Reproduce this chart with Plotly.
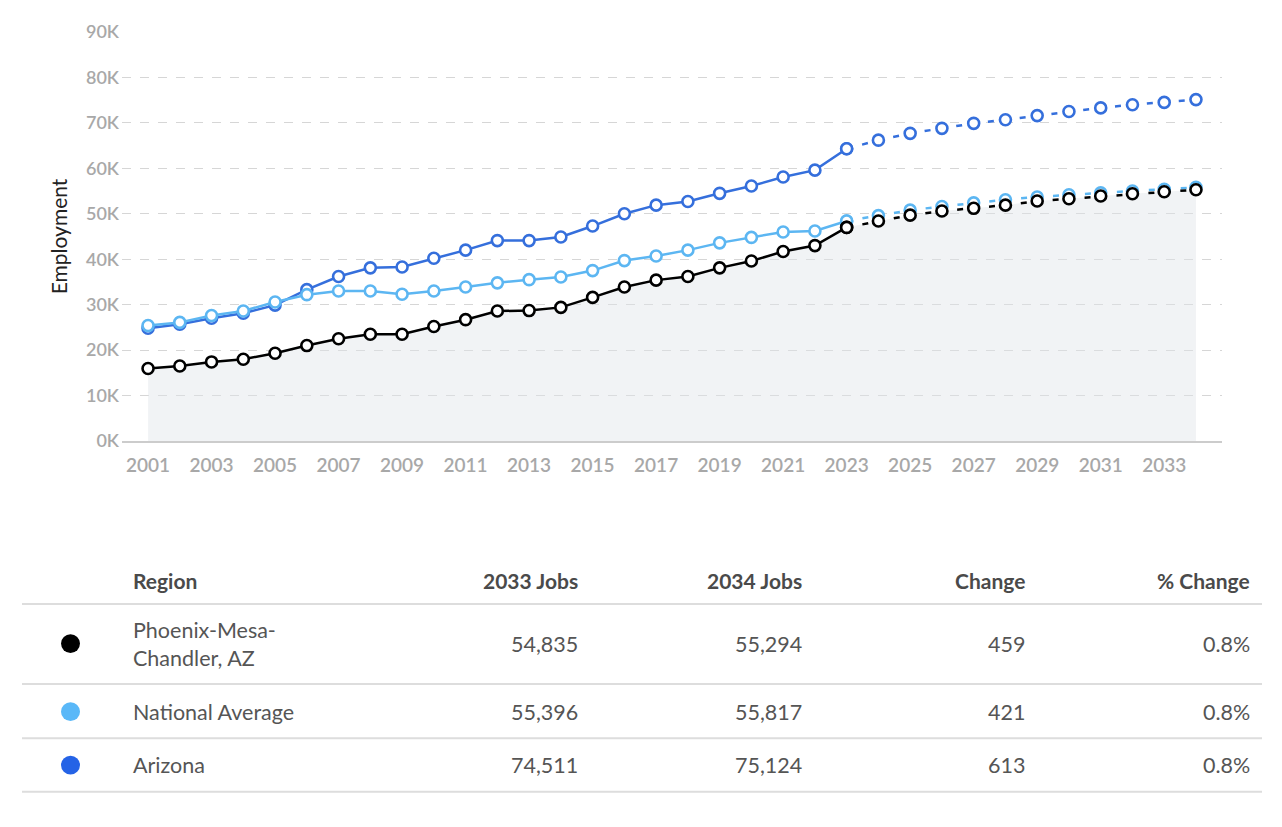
import plotly.graph_objects as go

years = list(range(2001, 2035))
last_actual_year = 2023

phoenix = [15960, 16500, 17400, 18000, 19300, 21000, 22500, 23500, 23500, 25200,
           26700, 28600, 28700, 29400, 31600, 33900, 35400, 36200, 38100, 39600,
           41700, 43000, 47000, 48400, 49700, 50600, 51200, 51900, 52800, 53300,
           53900, 54400, 54835, 55294]
national = [25400, 26100, 27600, 28600, 30600, 32200, 33000, 33000, 32300, 33000,
            33900, 34800, 35500, 36100, 37500, 39700, 40700, 42000, 43600, 44800,
            46000, 46200, 48400, 49600, 50800, 51600, 52400, 53100, 53700, 54200,
            54600, 55000, 55396, 55817]
arizona = [24800, 25700, 27000, 28100, 29900, 33300, 36200, 38100, 38300, 40200,
           42000, 44100, 44100, 44900, 47300, 50000, 51900, 52700, 54500, 56100,
           58100, 59600, 64300, 66200, 67700, 68800, 69900, 70700, 71600, 72500,
           73300, 74000, 74511, 75124]

y_tick_vals = [0, 10000, 20000, 30000, 40000, 50000, 60000, 70000, 80000, 90000]
y_tick_text = ["0K", "10K", "20K", "30K", "40K", "50K", "60K", "70K", "80K", "90K"]
x_tick_vals = list(range(2001, 2034, 2))

table_headers = ["Region", "2033 Jobs", "2034 Jobs", "Change", "% Change"]
regions = ["Phoenix-Mesa-<br>Chandler, AZ", "National Average", "Arizona"]
jobs_2033 = ["54,835", "55,396", "74,511"]
jobs_2034 = ["55,294", "55,817", "75,124"]
changes = ["459", "421", "613"]
pct_changes = ["0.8%", "0.8%", "0.8%"]

line_colors = ["#000000", "#5cb6f2", "#356fdc"]
dot_colors = ["#000000", "#5ab8f8", "#2563e6"]

# page has an 8px body margin; keep the page from overflowing the window
OFF = 8
W, H = 1282 - 2 * OFF, 802
PL, PR, PT, PB = 122, 1222, 27, 441  # plot area in page pixels
L, R, T, B = PL - OFF, OFF + W - PR, PT - OFF, OFF + H - PB


def px(x):
    return (x - PL) / (PR - PL)


def py(y):
    return (PB - y) / (PB - PT)


fig = go.Figure()

fig.add_trace(go.Scatter(x=years, y=phoenix, mode="none", fill="tozeroy",
                         fillcolor="rgba(225,228,233,0.45)", hoverinfo="skip",
                         showlegend=False))

series = [("Arizona", arizona, line_colors[2]),
          ("National Average", national, line_colors[1]),
          ("Phoenix-Mesa-Chandler, AZ", phoenix, line_colors[0])]

split = years.index(last_actual_year)
for name, vals, col in series:
    marker = dict(size=11, color="white", line=dict(color=col, width=2.6))
    fig.add_trace(go.Scatter(x=years[:split + 1], y=vals[:split + 1], mode="lines+markers",
                             line=dict(color=col, width=2.5), marker=marker,
                             name=name, showlegend=False))
    fig.add_trace(go.Scatter(x=years[split:], y=vals[split:], mode="lines+markers",
                             line=dict(color=col, width=2.5, dash="6px,10px"), marker=marker,
                             name=name, showlegend=False))

fig.update_xaxes(range=[2000.18, 2034.82], tickvals=x_tick_vals, showgrid=False,
                 zeroline=False, showline=True, linecolor="#cccccc", linewidth=1.5,
                 ticks="", tickfont=dict(family="Lato", size=19, color="#a8a8a8", weight=600),
                 ticklabelstandoff=6)
fig.update_yaxes(range=[0, 90000], tickvals=y_tick_vals, ticktext=y_tick_text,
                 showgrid=True, gridcolor="#d6d6d6", griddash="dash", gridwidth=1,
                 zeroline=False, showline=False, ticks="",
                 tickfont=dict(family="Lato", size=18, color="#a8a8a8", weight=600),
                 ticklabelstandoff=2,
                 title=dict(text="Employment", font=dict(family="Lato", size=21, color="#222222"),
                            standoff=12))

annotations = []
shapes = []

header_y = 582
header_right = [None, 580, 804, 1027, 1252]
text_left = 131
hfont = dict(family="Lato", size=21, color="#4a4a4a", weight=700)
bfont = dict(family="Lato", size=21.5, color="#555555")
annotations.append(dict(x=px(text_left), y=py(header_y), xref="paper", yref="paper",
                        text=table_headers[0], showarrow=False,
                        xanchor="left", yanchor="middle", font=hfont))
for i in range(1, 5):
    annotations.append(dict(x=px(header_right[i]), y=py(header_y), xref="paper", yref="paper",
                            text=table_headers[i], showarrow=False,
                            xanchor="right", yanchor="middle", font=hfont))

line_ys = [606, 687, 742, 796]
for ly in line_ys:
    shapes.append(dict(type="line", xref="paper", yref="paper", x0=px(22), x1=px(1262),
                       y0=py(ly), y1=py(ly), line=dict(color="#dddddd", width=2)))

row_ys = [646, 715, 769]
for r in range(3):
    ry = row_ys[r]
    shapes.append(dict(type="circle", xref="paper", yref="paper",
                       x0=px(61), x1=px(80), y0=py(ry - 9.5), y1=py(ry + 9.5),
                       fillcolor=dot_colors[r], line=dict(width=0)))
    annotations.append(dict(x=px(text_left), y=py(ry), xref="paper", yref="paper",
                            text=regions[r], showarrow=False, xanchor="left",
                            yanchor="middle", align="left", font=bfont))
    vals = [jobs_2033[r], jobs_2034[r], changes[r], pct_changes[r]]
    for c in range(4):
        annotations.append(dict(x=px(header_right[c + 1]), y=py(ry), xref="paper", yref="paper",
                                text=vals[c], showarrow=False, xanchor="right",
                                yanchor="middle", font=bfont))

fig.update_layout(width=W, height=H, margin=dict(l=L, r=R, t=T, b=B),
                  plot_bgcolor="white", paper_bgcolor="white",
                  font=dict(family="Lato"), annotations=annotations, shapes=shapes,
                  hovermode=False)

fig.write_html("out.html")
